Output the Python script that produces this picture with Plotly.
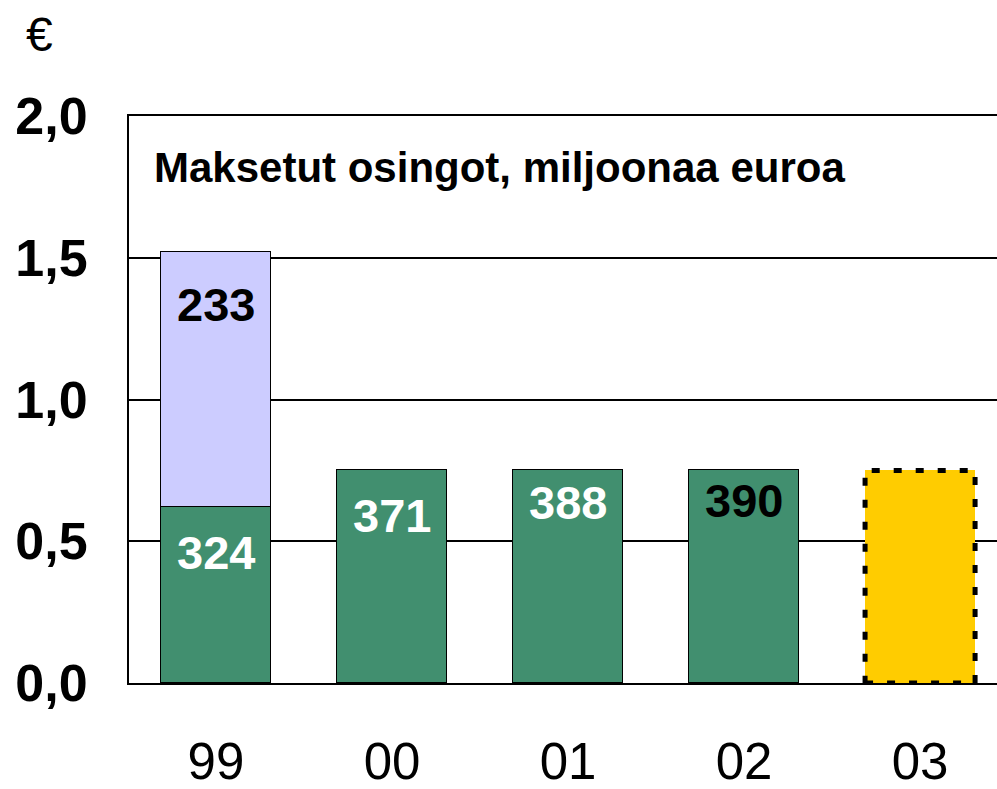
import plotly.graph_objects as go

# ---- data ----
years = ["99", "00", "01", "02", "03"]
base_values = [0.62, 0.75, 0.75, 0.75, None]     # € per share (green)
extra_values = [0.90, None, None, None, None]     # extra dividend 1999 (lavender)
proposal_values = [None, None, None, None, 0.75]  # 2003 proposal (yellow, dashed)
paid_meur = ["324", "371", "388", "390"]          # paid dividends, MEUR (green part)
extra_paid_meur = ["233"]                         # 1999 extra, MEUR
y_ticks = [0.0, 0.5, 1.0, 1.5, 2.0]
y_tick_text = ["0,0", "0,5", "1,0", "1,5", "2,0"]

# ---- styling / placement ----
GREEN = "#418F6F"
LAVENDER = "#CCCCFF"
YELLOW = "#FFCC00"
FONT = "Liberation Sans, Arial, sans-serif"
BAR_W = 0.625
x_pos = list(range(len(years)))
# vertical placement of the value labels (fraction of the bar segment height)
label_frac = [0.74, 0.79, 0.85, 0.86]
extra_label_frac = [0.795]
label_colors = ["white", "white", "white", "black"]

fig = go.Figure()
fig.add_bar(x=x_pos, y=base_values, width=BAR_W, marker=dict(color=GREEN, line=dict(color="black", width=1.5)))
fig.add_bar(x=x_pos, y=extra_values, width=BAR_W, marker=dict(color=LAVENDER, line=dict(color="black", width=1.5)))
fig.add_bar(x=x_pos, y=proposal_values, width=BAR_W, marker=dict(color=YELLOW, line=dict(width=0)))

# dashed outline for the proposal bar, derived from the data
for i, v in enumerate(proposal_values):
    if v is not None:
        fig.add_shape(type="rect", xref="x", yref="y",
                      x0=x_pos[i] - BAR_W / 2, x1=x_pos[i] + BAR_W / 2, y0=0, y1=v,
                      line=dict(color="black", width=5, dash="8px,14px"), layer="above")

# value labels
for i, txt in enumerate(paid_meur):
    fig.add_annotation(x=x_pos[i], y=base_values[i] * label_frac[i],
                       text=f"<b>{txt}</b>", showarrow=False,
                       font=dict(family=FONT, size=47, color=label_colors[i]))
for i, txt in enumerate(extra_paid_meur):
    fig.add_annotation(x=x_pos[i], y=base_values[i] + extra_values[i] * extra_label_frac[i],
                       text=f"<b>{txt}</b>", showarrow=False,
                       font=dict(family=FONT, size=47, color="black"))

fig.add_annotation(xref="paper", yref="paper", x=0.026, y=0.91, xanchor="left", yanchor="middle",
                   text="<b>Maksetut osingot, miljoonaa euroa</b>", showarrow=False,
                   font=dict(family=FONT, size=42, color="black"))
fig.add_annotation(xref="paper", yref="paper", x=-0.103, y=1.143, xanchor="center", yanchor="middle",
                   text="€", showarrow=False, font=dict(family=FONT, size=48, color="black"))

fig.update_layout(
    width=997, height=789,
    margin=dict(l=129, r=0, t=116, b=106),
    barmode="stack", bargap=0,
    showlegend=False,
    plot_bgcolor="white", paper_bgcolor="white",
    font=dict(family=FONT, color="black"),
)
fig.update_xaxes(range=[-0.494, 4.437], tickvals=x_pos, ticktext=years,
                 tickfont=dict(family=FONT, size=51, color="black"),
                 showline=True, linecolor="black", linewidth=2, mirror=True,
                 showgrid=False, ticks="", ticklabelstandoff=33, zeroline=False,
                 automargin=False)
fig.update_yaxes(range=[0, 2.0], tickvals=y_ticks, ticktext=y_tick_text,
                 tickfont=dict(family=FONT, size=52, color="black", weight="bold"),
                 showline=True, linecolor="black", linewidth=2,
                 showgrid=True, gridcolor="black", gridwidth=2, zeroline=False,
                 ticks="", ticklabelstandoff=29, automargin=False)

fig.write_html("out.html", config={"displayModeBar": False},
               post_script="document.body.style.margin='0';document.body.style.overflow='hidden';")
